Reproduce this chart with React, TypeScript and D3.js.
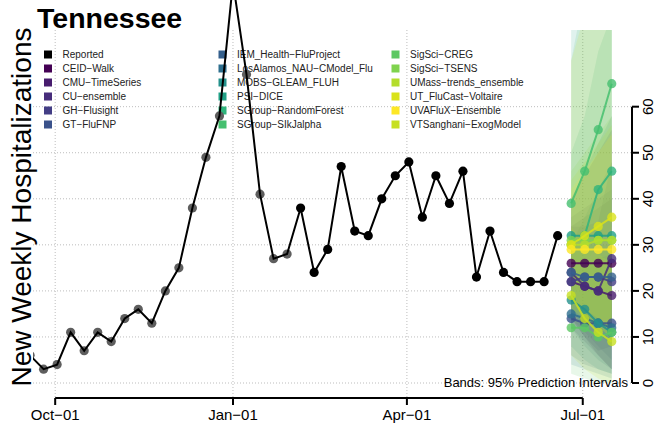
import React, { useEffect, useRef } from 'react';
import * as d3 from 'd3';

// Reported weekly hospitalizations (Tennessee)
const REPORTED_DATES = [
    "2022-09-18", "2022-09-25", "2022-10-02", "2022-10-09", "2022-10-16", "2022-10-23", "2022-10-30",
    "2022-11-06", "2022-11-13", "2022-11-20", "2022-11-27", "2022-12-04", "2022-12-11", "2022-12-18",
    "2022-12-25", "2023-01-01", "2023-01-08", "2023-01-15", "2023-01-22", "2023-01-29", "2023-02-05",
    "2023-02-12", "2023-02-19", "2023-02-26", "2023-03-05", "2023-03-12", "2023-03-19", "2023-03-26",
    "2023-04-02", "2023-04-09", "2023-04-16", "2023-04-23", "2023-04-30", "2023-05-07", "2023-05-14",
    "2023-05-21", "2023-05-28", "2023-06-04", "2023-06-11", "2023-06-18"
];
const REPORTED_VALUES = [
    6, 3, 4, 11, 7, 11, 9,
    14, 16, 13, 20, 25, 38, 49,
    58, 87, 67, 41, 27, 28, 38,
    24, 29, 47, 33, 32, 40, 45,
    48, 36, 45, 39, 46, 23, 33,
    24, 22, 22, 22, 32
];
// points up to this date were drawn in grey
const GREY_UNTIL = "2023-01-29";

const FORECAST_DATES = ["2023-06-25", "2023-07-02", "2023-07-09", "2023-07-16"];

const MODELS = [
    "CEID\u2212Walk", "CMU\u2212TimeSeries", "CU\u2212ensemble", "GH\u2212Flusight", "GT\u2212FluFNP",
    "IEM_Health\u2212FluProject", "LosAlamos_NAU\u2212CModel_Flu", "MOBS\u2212GLEAM_FLUH", "PSI\u2212DICE",
    "SGroup\u2212RandomForest", "SGroup\u2212SIkJalpha", "SigSci\u2212CREG", "SigSci\u2212TSENS",
    "UMass\u2212trends_ensemble", "UT_FluCast\u2212Voltaire", "UVAFluX\u2212Ensemble", "VTSanghani\u2212ExogModel"
];
const MODEL_COLORS = [
    "#440154", "#481c6e", "#472d7b", "#433e85", "#3b528b",
    "#35608d", "#2e6f8e", "#24918c", "#21a086",
    "#2fb47c", "#45bf6f", "#5cc863", "#7fd34e",
    "#b4dd2c", "#d9e21a", "#fde725", "#c7e021"
];
const MODEL_MEDIAN = [
    [26, 26, 26, 26], [22, 21, 20, 19], [24, 21, 20, 27], [22, 23, 23, 22], [14, 13, 13, 13],
    [24, 23, 23, 23], [15, 14, 13, 12], [18, 16, 13, 11], [32, 32, 32, 32],
    [30, 32, 42, 46], [39, 46, 55, 65], [12, 12, 10, 11], [31, 31, 31, 31],
    [30, 30, 31, 31], [30, 32, 34, 36], [29, 29, 29, 29], [19, 14, 11, 9]
];
const MODEL_LOWER = [
    [14, 10, 6, 3], [12, 9, 6, 3], [14, 10, 7, 8], [14, 11, 8, 5], [6, 4, 3, 2],
    [12, 8, 5, 3], [4, 3, 2, 1], [8, 5, 3, 2], [18, 14, 11, 8],
    [16, 12, 14, 14], [24, 26, 30, 34], [2, 1, 0, 0], [16, 14, 12, 10],
    [18, 15, 12, 10], [16, 14, 12, 10], [18, 16, 14, 12], [6, 3, 1, 0]
];
const MODEL_UPPER = [
    [40, 45, 50, 55], [34, 36, 38, 40], [34, 34, 35, 48], [36, 38, 40, 42], [24, 25, 27, 28],
    [40, 46, 52, 58], [30, 36, 42, 48], [30, 30, 30, 30], [78, 82, 86, 90],
    [50, 58, 72, 80], [70, 85, 95, 110], [24, 26, 28, 30], [46, 50, 54, 58],
    [44, 48, 52, 56], [70, 80, 90, 100], [42, 46, 50, 54], [34, 30, 28, 26]
];

const X_TICKS = ["2022-10-01", "2023-01-01", "2023-04-01", "2023-07-01"];
const X_TICK_LABELS = ["Oct\u221201", "Jan\u221201", "Apr\u221201", "Jul\u221201"];
const Y_TICKS = [0, 10, 20, 30, 40, 50, 60];

const parse = d3.timeParse("%Y-%m-%d");

export default function App() {
    const svgRef = useRef<SVGSVGElement>(null);

    useEffect(() => {
        if (!svgRef.current) return;
        const svg = d3.select(svgRef.current);
        svg.selectAll("*").remove();

        const font = "'Liberation Sans', Arial, Helvetica, sans-serif";
        const plot = { left: 33, right: 632, top: 30, bottom: 398 };

        // 4% padding like R's default axis range
        const pad = 0.04 * (plot.right - plot.left) / 1.08;
        const x = d3.scaleTime()
            .domain([parse(X_TICKS[0])!, parse("2023-07-15")!])
            .range([plot.left + pad, plot.right - pad]);
        const y = d3.scaleLinear()
            .domain([0, 76])
            .range([383, 33]);

        const defs = svg.append("defs");
        defs.append("clipPath").attr("id", "clip-data")
            .append("rect")
            .attr("x", plot.left).attr("y", 0)
            .attr("width", plot.right - plot.left).attr("height", plot.bottom);
        defs.append("clipPath").attr("id", "clip-bands")
            .append("rect")
            .attr("x", plot.left).attr("y", plot.top)
            .attr("width", plot.right - plot.left).attr("height", plot.bottom - plot.top);

        // Grid
        const grid = svg.append("g")
            .attr("stroke", "#bdbdbd")
            .attr("stroke-width", 1)
            .attr("stroke-dasharray", "1,2");
        Y_TICKS.forEach(t => {
            grid.append("line")
                .attr("x1", plot.left).attr("x2", plot.right)
                .attr("y1", y(t)).attr("y2", y(t));
        });
        X_TICKS.forEach(t => {
            grid.append("line")
                .attr("x1", x(parse(t)!)).attr("x2", x(parse(t)!))
                .attr("y1", plot.top).attr("y2", plot.bottom);
        });

        // Legend (drawn under the data)
        const entries = ["Reported", ...MODELS];
        const entryColors = ["#000000", ...MODEL_COLORS];
        const colSquareX = [44, 218.5, 391.5];
        entries.forEach((name, i) => {
            const col = Math.floor(i / 6);
            const row = i % 6;
            const cy = 54.5 + row * 14;
            svg.append("rect")
                .attr("x", colSquareX[col]).attr("y", cy - 4)
                .attr("width", 8).attr("height", 8)
                .attr("fill", entryColors[i]);
            svg.append("text")
                .attr("x", colSquareX[col] + 18.5).attr("y", cy + 3.6)
                .attr("font-family", font).attr("font-size", 10)
                .attr("fill", "#222")
                .text(name);
        });

        // Prediction bands
        const fDates = FORECAST_DATES.map(d => parse(d)!);
        const bands = svg.append("g").attr("clip-path", "url(#clip-bands)");
        MODELS.forEach((_, m) => {
            const area = d3.area<number>()
                .x((_, i) => x(fDates[i]))
                .y0((_, i) => y(MODEL_LOWER[m][i]))
                .y1((_, i) => y(MODEL_UPPER[m][i]));
            bands.append("path")
                .datum(d3.range(fDates.length))
                .attr("fill", MODEL_COLORS[m])
                .attr("fill-opacity", 0.14)
                .attr("d", area);
        });

        // Reported series
        const data = REPORTED_DATES.map((d, i) => ({ date: parse(d)!, value: REPORTED_VALUES[i] }));
        const greyCut = parse(GREY_UNTIL)!;
        const obs = svg.append("g").attr("clip-path", "url(#clip-data)");
        obs.selectAll("circle")
            .data(data)
            .join("circle")
            .attr("cx", d => x(d.date))
            .attr("cy", d => y(d.value))
            .attr("r", 4.6)
            .attr("fill", d => d.date <= greyCut ? "#5e5e5e" : "#000000");
        obs.append("path")
            .datum(data)
            .attr("fill", "none")
            .attr("stroke", "#000")
            .attr("stroke-width", 2)
            .attr("d", d3.line<{ date: Date; value: number }>()
                .x(d => x(d.date))
                .y(d => y(d.value)));

        // Forecast medians
        MODELS.forEach((_, m) => {
            const g = svg.append("g");
            const pts = MODEL_MEDIAN[m].map((v, i) => ({ date: fDates[i], value: v }));
            g.append("path")
                .datum(pts)
                .attr("fill", "none")
                .attr("stroke", MODEL_COLORS[m])
                .attr("stroke-opacity", 0.85)
                .attr("stroke-width", 2)
                .attr("d", d3.line<{ date: Date; value: number }>()
                    .x(d => x(d.date))
                    .y(d => y(d.value)));
            g.selectAll("circle")
                .data(pts)
                .join("circle")
                .attr("cx", d => x(d.date))
                .attr("cy", d => y(d.value))
                .attr("r", 4.6)
                .attr("fill", MODEL_COLORS[m])
                .attr("fill-opacity", 0.8);
        });

        // Bottom axis
        const xa = svg.append("g").attr("stroke", "#000").attr("stroke-width", 2);
        xa.append("line")
            .attr("x1", x(parse(X_TICKS[0])!)).attr("x2", x(parse(X_TICKS[X_TICKS.length - 1])!))
            .attr("y1", plot.bottom).attr("y2", plot.bottom);
        X_TICKS.forEach((t, i) => {
            const px = x(parse(t)!);
            xa.append("line")
                .attr("x1", px).attr("x2", px)
                .attr("y1", plot.bottom).attr("y2", plot.bottom + 7);
            svg.append("text")
                .attr("x", px).attr("y", plot.bottom + 22)
                .attr("text-anchor", "middle")
                .attr("font-family", font).attr("font-size", 15)
                .text(X_TICK_LABELS[i]);
        });

        // Right axis
        const ya = svg.append("g").attr("stroke", "#000").attr("stroke-width", 2);
        ya.append("line")
            .attr("x1", plot.right).attr("x2", plot.right)
            .attr("y1", y(0)).attr("y2", y(60));
        Y_TICKS.forEach(t => {
            ya.append("line")
                .attr("x1", plot.right).attr("x2", plot.right + 7)
                .attr("y1", y(t)).attr("y2", y(t));
            svg.append("text")
                .attr("transform", `translate(652.5,${y(t)}) rotate(-90)`)
                .attr("text-anchor", "middle")
                .attr("font-family", font).attr("font-size", 15)
                .text(String(t));
        });

        // Note, title, axis title
        svg.append("text")
            .attr("x", 628).attr("y", 387)
            .attr("text-anchor", "end")
            .attr("font-family", font).attr("font-size", 13)
            .text("Bands: 95% Prediction Intervals");

        svg.append("text")
            .attr("x", 37).attr("y", 28)
            .attr("font-family", font).attr("font-size", 28.5).attr("font-weight", "bold")
            .text("Tennessee");

        svg.append("text")
            .attr("transform", "translate(31,207) rotate(-90)")
            .attr("text-anchor", "middle")
            .attr("font-family", font).attr("font-size", 28)
            .text("New Weekly Hospitalizations");
    }, []);

    return (
        <svg ref={svgRef} width={656} height={432}
            style={{ position: "absolute", left: 0, top: 0, background: "#fff" }} />
    );
}
